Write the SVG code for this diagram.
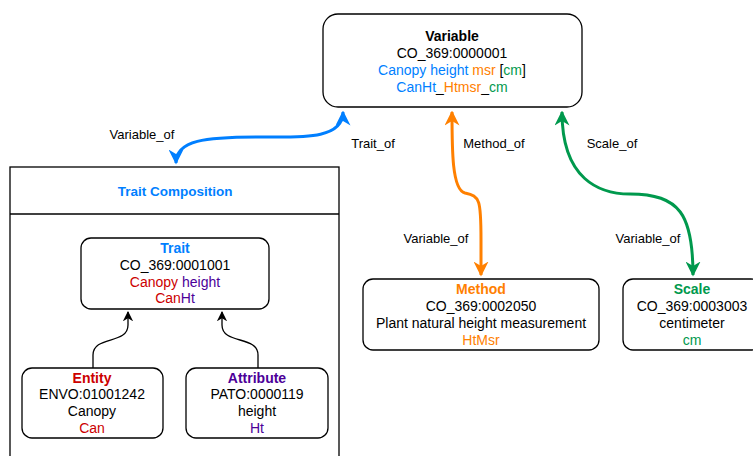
<svg xmlns="http://www.w3.org/2000/svg" width="753" height="456" viewBox="0 0 753 456">
<style>
text{font-family:"Liberation Sans",Arial,sans-serif;font-size:14px;text-anchor:middle;fill:#000}
.b{font-weight:bold}
.lbl{font-size:13px}
.box{fill:#fff;stroke:#000;stroke-width:1.3}
.blue{fill:#007FFF}.orange{fill:#FF8000}.green{fill:#00994D}.red{fill:#CC0000}.purple{fill:#4C0099}.blk{fill:#000}
.edge{fill:none;stroke-width:3}
</style>
<defs>
<marker id="aBlue" viewBox="0 0 10 10" refX="9" refY="5" markerWidth="5" markerHeight="5" orient="auto-start-reverse" markerUnits="strokeWidth"><path d="M0,0 L10,5 L0,10 L3,5 z" fill="#007FFF"/></marker>
<marker id="aOrange" viewBox="0 0 10 10" refX="9" refY="5" markerWidth="5" markerHeight="5" orient="auto-start-reverse" markerUnits="strokeWidth"><path d="M0,0 L10,5 L0,10 L3,5 z" fill="#FF8000"/></marker>
<marker id="aGreen" viewBox="0 0 10 10" refX="9" refY="5" markerWidth="5" markerHeight="5" orient="auto-start-reverse" markerUnits="strokeWidth"><path d="M0,0 L10,5 L0,10 L3,5 z" fill="#00994D"/></marker>
<marker id="aBlack" viewBox="0 0 10 10" refX="9" refY="5" markerWidth="8" markerHeight="8" orient="auto" markerUnits="strokeWidth"><path d="M0,0 L10,5 L0,10 L3,5 z" fill="#000"/></marker>
</defs>

<g id="trait-composition">
<rect x="10" y="167" width="329" height="300" fill="#fff" stroke="#000" stroke-width="1.3"/>
<line x1="10" y1="214" x2="339" y2="214" stroke="#000" stroke-width="1.3"/>
<text x="175" y="196" class="b blue" style="font-size:13.5px">Trait Composition</text>
</g>

<g id="variable">
<rect class="box" x="323" y="14" width="259" height="93" rx="15"/>
<text x="452" y="41" class="b">Variable</text>
<text x="452" y="58">CO_369:0000001</text>
<text x="452" y="75"><tspan class="blue">Canopy height</tspan><tspan class="orange"> msr</tspan><tspan class="blk"> [</tspan><tspan class="green">cm</tspan><tspan class="blk">]</tspan></text>
<text x="452" y="92"><tspan class="blue">CanHt</tspan><tspan class="blk">_</tspan><tspan class="orange">Htmsr</tspan><tspan class="blk">_</tspan><tspan class="green">cm</tspan></text>
</g>

<g id="trait">
<rect class="box" x="81" y="238" width="188" height="71" rx="10"/>
<text x="175" y="253" class="b blue">Trait</text>
<text x="175" y="270">CO_369:0001001</text>
<text x="175" y="287"><tspan class="red">Canopy</tspan><tspan class="purple"> height</tspan></text>
<text x="175" y="303"><tspan class="red">Can</tspan><tspan class="purple">Ht</tspan></text>
</g>

<g id="entity">
<rect class="box" x="22" y="368" width="141" height="70" rx="10"/>
<text x="92" y="383" class="b red">Entity</text>
<text x="92" y="399">ENVO:01001242</text>
<text x="92" y="416">Canopy</text>
<text x="92" y="433" class="red">Can</text>
</g>

<g id="attribute">
<rect class="box" x="186" y="368" width="142" height="70" rx="10"/>
<text x="257" y="383" class="b purple">Attribute</text>
<text x="257" y="399">PATO:0000119</text>
<text x="257" y="416">height</text>
<text x="257" y="433" class="purple">Ht</text>
</g>

<g id="method">
<rect class="box" x="363" y="279" width="236" height="71" rx="10"/>
<text x="481" y="294" class="b orange">Method</text>
<text x="481" y="311">CO_369:0002050</text>
<text x="481" y="328">Plant natural height measurement</text>
<text x="481" y="345" class="orange">HtMsr</text>
</g>

<g id="scale">
<rect class="box" x="623" y="279" width="138" height="71" rx="10"/>
<text x="692" y="294" class="b green">Scale</text>
<text x="692" y="311">CO_369:0003003</text>
<text x="692" y="328">centimeter</text>
<text x="692" y="345" class="green">cm</text>
</g>

<g id="connectors">
<path class="edge" stroke="#007FFF" marker-start="url(#aBlue)" marker-end="url(#aBlue)" d="M343,112 C343,140 300,137 260,137 C205,137 176,140 176,163"/>
<path class="edge" stroke="#FF8000" marker-start="url(#aOrange)" marker-end="url(#aOrange)" d="M452,112 C452,150 452,190 465,193 C480,196 481,200 481,240 L481,275"/>
<path class="edge" stroke="#00994D" marker-start="url(#aGreen)" marker-end="url(#aGreen)" d="M562,112 C562,180 600,194 630,194 C680,194 693,215 693,275"/>
<path fill="none" stroke="#000" stroke-width="1.3" marker-end="url(#aBlack)" d="M93,368 L93,355 C93,335 128,345 128,325 L128,312"/>
<path fill="none" stroke="#000" stroke-width="1.3" marker-end="url(#aBlack)" d="M258,368 L258,355 C258,335 222,345 222,325 L222,312"/>
<text x="142" y="139" class="lbl">Variable_of</text>
<text x="373" y="148" class="lbl">Trait_of</text>
<text x="494" y="148" class="lbl">Method_of</text>
<text x="612" y="148" class="lbl">Scale_of</text>
<text x="436" y="243" class="lbl">Variable_of</text>
<text x="648" y="243" class="lbl">Variable_of</text>
</g>
</svg>
